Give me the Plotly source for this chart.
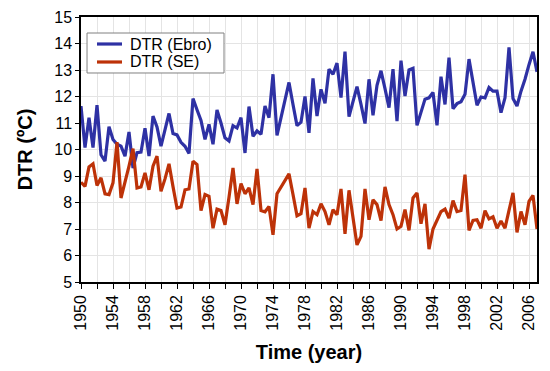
import plotly.graph_objects as go

# Half-yearly time steps, 1950 .. 2007
time = [1950 + 0.5 * i for i in range(115)]

dtr_ebro = [
    11.64, 10.07, 11.2, 10.07, 11.67, 9.8, 9.56, 10.86, 10.38, 10.2,
    10.13, 9.75, 10.66, 9.3, 9.88, 9.9, 10.8, 9.75, 11.26, 10.85,
    10.13, 10.7, 11.36, 10.6, 10.55, 10.27, 10.12, 9.85, 11.92, 11.5,
    11.1, 10.38, 10.95, 10.2, 11.49, 11.0, 10.44, 10.32, 10.9, 10.81,
    11.2, 9.87, 11.62, 10.5, 10.7, 10.57, 11.64, 11.2, 12.84, 10.53,
    11.2, 11.9, 12.53, 11.7, 10.9, 11.03, 12.0, 10.63, 12.68, 11.26,
    12.27, 11.74, 13.03, 12.84, 13.26, 11.96, 13.69, 11.24, 11.8, 12.37,
    11.7, 10.98, 12.65, 11.29, 12.42, 12.97, 12.3, 11.58, 13.03, 11.07,
    13.35, 12.02, 13.0, 13.06, 10.91, 11.4, 11.9, 11.95, 12.15, 10.91,
    12.75, 11.7, 13.47, 11.54, 11.73, 11.8, 12.08, 13.41, 12.5, 11.67,
    11.98, 11.95, 12.34, 12.2, 12.2, 11.39, 11.95, 13.85, 11.92, 11.64,
    12.2, 12.65, 13.2, 13.69, 12.93,
]

dtr_se = [
    8.76, 8.61, 9.34, 9.46, 8.64, 8.93, 8.33, 8.3, 8.74, 10.28,
    8.17, 8.74, 9.37, 10.03, 8.55, 8.59, 9.12, 8.48, 9.37, 9.75,
    8.42, 8.89, 9.46, 8.6, 7.79, 7.83, 8.48, 8.51, 9.56, 9.43,
    7.69, 8.3, 8.23, 7.03, 7.75, 7.7, 7.16, 8.2, 9.3, 7.95,
    8.71, 8.33, 8.55, 7.92, 9.27, 7.7, 7.65, 7.85, 6.78, 8.33,
    8.6, 8.85, 9.08, 8.3, 7.5, 7.58, 8.55, 7.03, 7.66, 7.54,
    7.95, 7.66, 7.16, 7.73, 7.54, 8.51, 6.82, 8.46, 7.35, 6.4,
    6.72, 8.51, 7.35, 8.1, 7.92, 7.32, 8.59, 7.92, 7.54, 7.0,
    7.1, 7.73, 6.95, 8.17, 8.36, 7.2, 7.95, 6.24, 7.0, 7.35,
    7.66, 7.75, 7.41, 8.07, 7.66, 7.7, 9.05, 6.95, 7.32, 7.35,
    7.03, 7.69, 7.38, 7.46, 7.03, 7.3, 7.03, 7.7, 8.36, 6.87,
    7.66, 7.16, 8.04, 8.27, 7.0,
]

series_names = ["DTR (Ebro)", "DTR (SE)"]
x_ticks = list(range(1950, 2007, 4))
y_ticks = list(range(5, 16))

BLUE = "#2E31A4"
RED = "#BD3208"
FONT = "Liberation Sans, Arial, sans-serif"

fig = go.Figure()
fig.add_trace(go.Scatter(x=time, y=dtr_ebro, mode="lines", name=series_names[0],
                         line=dict(color=BLUE, width=3.2), showlegend=False))
fig.add_trace(go.Scatter(x=time, y=dtr_se, mode="lines", name=series_names[1],
                         line=dict(color=RED, width=3.2), showlegend=False))

# Legend box (drawn in paper coordinates)
fig.add_shape(type="rect", xref="paper", yref="paper",
              x0=0.0132, x1=0.3136, y0=0.7887, y1=0.9396,
              line=dict(color="#808080", width=1), fillcolor="white", layer="above")
for name, color, yy in [(series_names[0], BLUE, 0.8981), (series_names[1], RED, 0.8302)]:
    fig.add_shape(type="line", xref="paper", yref="paper",
                  x0=0.0351, x1=0.0899, y0=yy, y1=yy,
                  line=dict(color=color, width=3.2), layer="above")
    fig.add_annotation(xref="paper", yref="paper", x=0.103, y=yy,
                       xanchor="left", yanchor="middle", text=name, showarrow=False,
                       font=dict(size=16, family=FONT, color="black"))

fig.update_layout(
    width=550, height=371,
    margin=dict(l=81, r=13, t=17, b=89),
    paper_bgcolor="white", plot_bgcolor="white",
    font=dict(family=FONT, color="black", size=16),
    showlegend=False,
)

fig.update_xaxes(
    range=[1950, 2007], automargin=False,
    tickvals=x_ticks, ticktext=[str(t) for t in x_ticks],
    tickangle=-90, ticks="outside", ticklen=5, tickcolor="black",
    showline=True, linecolor="black", linewidth=1.5, mirror=True,
    showgrid=True, gridcolor="#E4E4E4", gridwidth=1,
    minor=dict(dtick=2, tick0=1950, ticks="outside", ticklen=5, tickcolor="black",
               showgrid=True, gridcolor="#E4E4E4"),
    tickfont=dict(size=16),
    title=dict(text="<b>Time (year)</b>", font=dict(size=20), standoff=15),
    zeroline=False,
)
fig.update_yaxes(
    range=[5, 15], automargin=False,
    tickvals=y_ticks,
    ticks="outside", ticklen=4, tickcolor="black",
    showline=True, linecolor="black", linewidth=1.5, mirror=True,
    showgrid=True, gridcolor="#E4E4E4", gridwidth=1,
    tickfont=dict(size=16),
    title=dict(text="<b>DTR (ºC)</b>", font=dict(size=20), standoff=16),
    zeroline=False,
)

fig.write_html("out.html", config={"displayModeBar": False},
               post_script="document.body.style.margin='0';document.body.style.padding='0';")
